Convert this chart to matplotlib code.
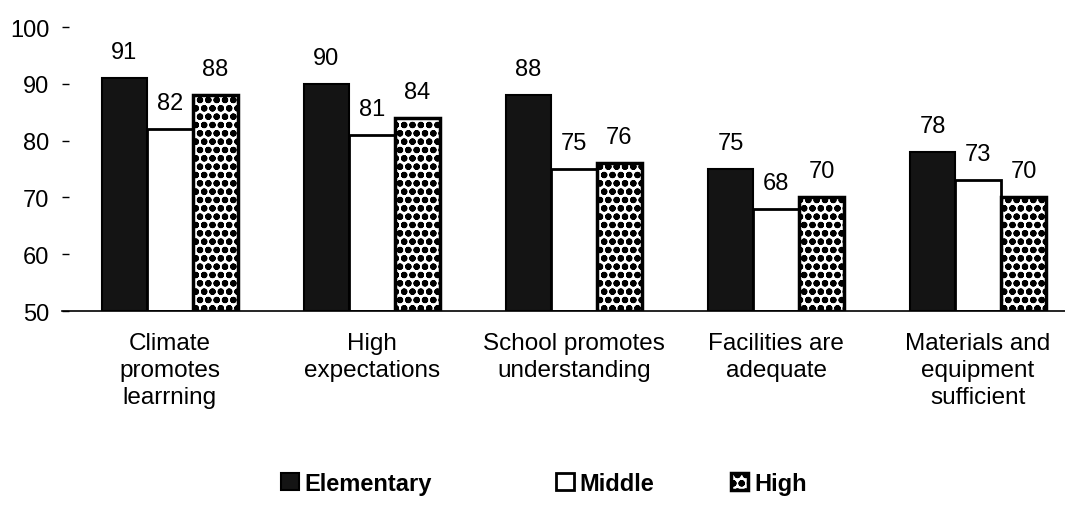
import numpy as np
import matplotlib.pyplot as plt

plt.rcParams['font.family'] = ['Liberation Sans', 'DejaVu Sans']
plt.rcParams['hatch.linewidth'] = 2.2

categories = ["Climate\npromotes\nlearrning", "High\nexpectations", "School promotes\nunderstanding",
              "Facilities are\nadequate", "Materials and\nequipment\nsufficient"]
elementary = [91, 90, 88, 75, 78]
middle = [82, 81, 75, 68, 73]
high = [88, 84, 76, 70, 70]
series_names = ["Elementary", "Middle", "High"]

fig = plt.figure(figsize=(10.65, 5.1), dpi=100)
ax = fig.add_axes([0.058, 0.388, 0.942, 0.557])

x = np.arange(len(categories))
w = 0.225
b1 = ax.bar(x - w, [v - 50 for v in elementary], w, bottom=50, color='#141414',
            edgecolor='black', linewidth=1.5, label=series_names[0])
b2 = ax.bar(x, [v - 50 for v in middle], w, bottom=50, color='white',
            edgecolor='black', linewidth=2, label=series_names[1])
b3 = ax.bar(x + w, [v - 50 for v in high], w, bottom=50, color='white',
            edgecolor='black', linewidth=2.5, hatch='oo', label=series_names[2])

for bars, vals in [(b1, elementary), (b2, middle), (b3, high)]:
    for bar, v in zip(bars, vals):
        ax.annotate(str(v), (bar.get_x() + bar.get_width() / 2, v),
                    xytext=(0, 11), textcoords='offset points',
                    ha='center', va='bottom', fontsize=17)

ax.set_xlim(-0.535, 4.43)
ax.set_ylim(50, 100)
ax.set_yticks([50, 60, 70, 80, 90, 100])
ax.set_xticks(x)
ax.set_xticklabels(categories, fontsize=17.5, linespacing=1.3)
ax.tick_params(axis='x', length=0, pad=15)
ax.tick_params(axis='y', labelsize=17, length=5, width=1, pad=9, direction='in')
for s in ['top', 'right', 'left']:
    ax.spines[s].set_visible(False)
ax.spines['bottom'].set_linewidth(1.2)

# separate legend entries, placed like the original
for handle, name, xpos in zip([b1, b2, b3], series_names, [0.264, 0.522, 0.686]):
    fig.legend(handles=[handle], labels=[name], loc='center left',
               bbox_to_anchor=(xpos, 0.05), frameon=False, borderpad=0,
               borderaxespad=0, prop={'size': 17, 'weight': 'bold'},
               handlelength=0.75, handleheight=0.75, handletextpad=0.25)

fig.savefig('out.png', dpi=100)
